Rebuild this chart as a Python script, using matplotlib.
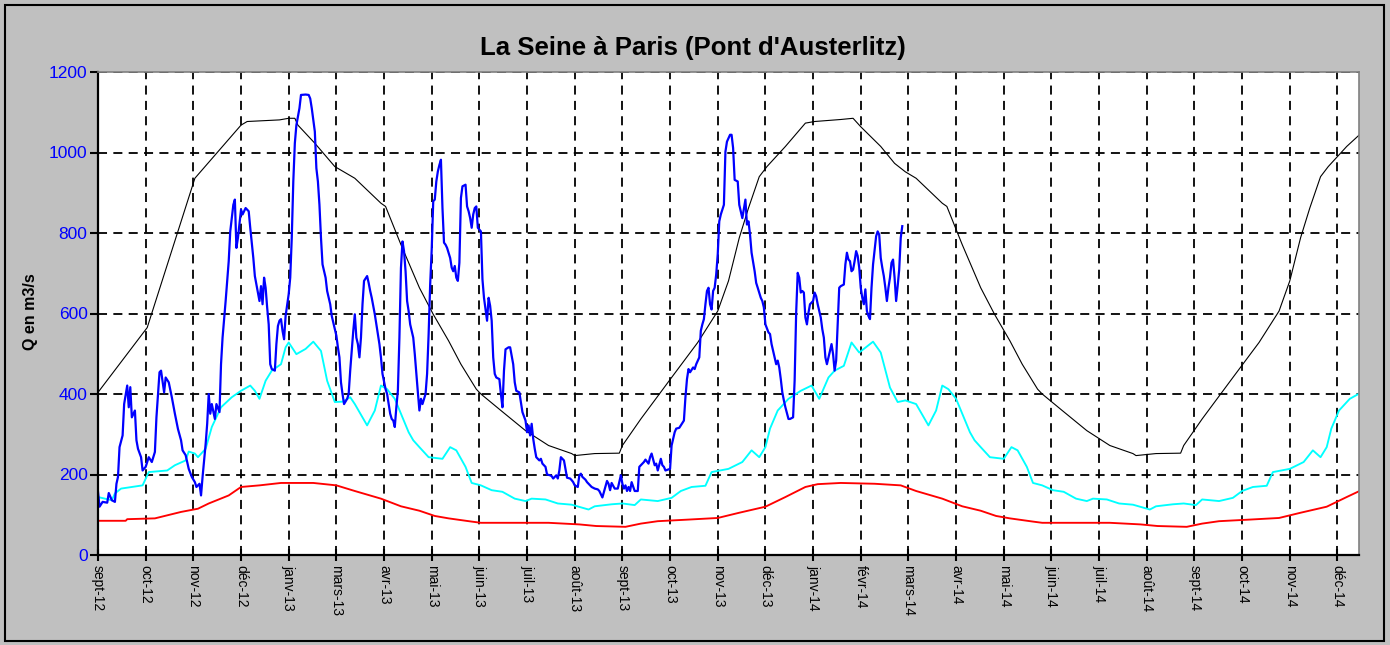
import matplotlib
matplotlib.use("Agg")
import matplotlib.pyplot as plt
from matplotlib.patches import Rectangle

plt.rcParams['font.family'] = ['Liberation Sans', 'DejaVu Sans']

# axe des x : jours depuis le 28/09/2012, une graduation tous les 31 jours
tick_labels = ['sept-12', 'oct-12', 'nov-12', 'déc-12', 'janv-13', 'mars-13', 'avr-13',
               'mai-13', 'juin-13', 'juil-13', 'août-13', 'sept-13', 'oct-13', 'nov-13',
               'déc-13', 'janv-14', 'févr-14', 'mars-14', 'avr-14', 'mai-14', 'juin-14',
               'juil-14', 'août-14', 'sept-14', 'oct-14', 'nov-14', 'déc-14']
tick_step = 31

# debit journalier observe (m3/s)
q_jours = [0, 1, 3, 6, 7, 9, 11, 12, 13, 14, 16, 17, 19, 20, 21, 22, 24, 25, 26, 28,
           29, 31, 33, 35, 37, 38, 40, 41, 43, 44, 46, 48, 50, 52, 54, 55, 57, 59, 61, 63,
           64, 66, 67, 68, 70, 71, 72, 73, 74, 76, 77, 79, 80, 81, 83, 85, 86, 88, 89, 90,
           91, 93, 94, 96, 98, 99, 101, 102, 104, 105, 106, 107, 108, 109, 110, 111, 112, 113, 115, 116,
           117, 118, 119, 120, 121, 122, 124, 125, 126, 127, 128, 129, 131, 132, 135, 137, 138, 139, 141, 142,
           143, 144, 145, 146, 148, 149, 151, 152, 154, 155, 156, 157, 158, 159, 160, 162, 163, 164, 165, 166,
           167, 168, 169, 170, 171, 172, 173, 175, 176, 177, 178, 180, 181, 183, 184, 185, 187, 188, 189, 190,
           191, 192, 193, 194, 195, 196, 197, 198, 199, 200, 201, 202, 203, 205, 206, 207, 208, 209, 210, 211,
           213, 214, 215, 216, 217, 218, 219, 220, 221, 222, 223, 224, 225, 226, 227, 229, 230, 231, 232, 233,
           234, 235, 236, 237, 239, 240, 241, 242, 243, 244, 245, 246, 247, 249, 250, 251, 252, 253, 254, 255,
           256, 257, 258, 259, 261, 262, 263, 264, 265, 267, 268, 270, 271, 272, 274, 275, 276, 278, 279, 280,
           281, 282, 283, 284, 285, 287, 288, 289, 291, 292, 294, 295, 296, 298, 299, 300, 301, 303, 304, 305,
           307, 308, 309, 310, 312, 313, 314, 315, 317, 318, 320, 321, 323, 325, 326, 328, 329, 331, 332, 333,
           334, 336, 337, 338, 340, 341, 342, 343, 344, 345, 346, 347, 349, 351, 352, 353, 355, 356, 358, 359,
           360, 362, 363, 364, 366, 367, 368, 369, 372, 373, 375, 376, 378, 379, 381, 382, 383, 384, 385, 387,
           388, 389, 391, 392, 393, 394, 395, 396, 397, 398, 399, 400, 401, 402, 403, 404, 405, 407, 408, 409,
           411, 412, 413, 414, 416, 417, 419, 421, 422, 423, 424, 425, 427, 428, 429, 431, 432, 433, 434, 436,
           437, 438, 440, 441, 442, 443, 444, 445, 446, 447, 449, 450, 452, 453, 454, 455, 456, 457, 458, 459,
           460, 461, 462, 463, 465, 466, 467, 468, 470, 471, 472, 473, 474, 476, 477, 478, 479, 480, 481, 482,
           483, 485, 486, 487, 488, 489, 490, 491, 492, 493, 494, 495, 496, 497, 498, 499, 500, 501, 502, 503,
           504, 506, 507, 508, 509, 510, 511, 512, 513, 514, 515, 516, 517, 518, 519, 520, 521, 522, 523]
q_obs = [157, 120, 132, 130, 154, 136, 132, 177, 194, 268, 297, 375, 421, 367, 417, 342, 359, 285, 264, 243,
         210, 219, 243, 231, 256, 342, 454, 458, 404, 441, 429, 392, 351, 313, 285, 260, 248, 214, 194, 181,
         169, 177, 148, 194, 276, 326, 400, 351, 375, 338, 375, 355, 474, 540, 631, 730, 804, 870, 883, 763,
         788, 858, 846, 862, 854, 813, 738, 693, 652, 631, 668, 623, 689, 664, 615, 573, 474, 462, 458, 524,
         569, 582, 586, 557, 536, 594, 648, 689, 788, 928, 1023, 1068, 1110, 1143, 1144, 1143, 1134, 1110, 1052, 961,
         928, 870, 788, 722, 689, 656, 623, 594, 561, 545, 516, 491, 429, 400, 375, 388, 400, 458, 507, 557,
         598, 540, 524, 491, 540, 623, 681, 693, 676, 656, 639, 598, 573, 524, 491, 450, 412, 400, 375, 351,
         338, 334, 318, 367, 408, 540, 713, 779, 755, 705, 631, 606, 573, 540, 499, 450, 404, 359, 388, 375,
         400, 450, 549, 672, 759, 879, 883, 928, 953, 969, 982, 862, 776, 771, 763, 738, 714, 705, 718, 689,
         681, 726, 887, 916, 920, 866, 854, 837, 813, 846, 862, 866, 813, 804, 685, 639, 610, 582, 639, 619,
         582, 491, 450, 441, 437, 400, 367, 458, 511, 516, 516, 474, 429, 408, 404, 380, 355, 334, 305, 322,
         297, 326, 289, 264, 243, 235, 239, 227, 219, 200, 198, 196, 190, 198, 190, 210, 243, 235, 214, 192,
         190, 186, 181, 173, 169, 198, 202, 194, 187, 181, 173, 169, 165, 163, 159, 143, 157, 184, 177, 161,
         179, 165, 165, 165, 198, 177, 165, 173, 159, 169, 159, 181, 159, 159, 219, 223, 231, 237, 227, 243,
         252, 223, 227, 210, 239, 223, 219, 210, 214, 272, 305, 314, 316, 322, 334, 392, 437, 462, 454, 466,
         462, 474, 491, 557, 573, 586, 623, 656, 664, 623, 610, 656, 664, 697, 747, 829, 846, 870, 1002, 1027,
         1044, 1044, 1011, 932, 928, 870, 837, 883, 821, 829, 796, 751, 705, 676, 664, 639, 631, 615, 573, 553,
         549, 524, 491, 474, 483, 466, 437, 404, 384, 367, 338, 338, 342, 433, 602, 701, 689, 652, 656, 652,
         590, 573, 602, 623, 631, 652, 643, 623, 590, 561, 540, 491, 474, 507, 524, 499, 458, 483, 573, 664,
         668, 672, 722, 751, 734, 730, 705, 709, 730, 755, 743, 714, 664, 639, 623, 660, 606, 594, 586, 664,
         722, 792, 804, 796, 738, 714, 693, 664, 631, 664, 689, 726, 734, 689, 631, 668, 709, 788, 817]

# debit maximal (courbe noire)
max_jours = [0, 32, 63, 93, 97, 118, 124, 128, 130, 141, 154, 167, 184, 187, 197, 209, 218, 228, 236, 246,
             249, 262, 278, 293, 308, 310, 323, 339, 341, 353, 373, 390, 403, 410, 417, 423, 430, 435, 447, 460,
             466, 483, 491, 496, 509, 518, 525, 532, 549, 552, 562, 574, 583, 593, 601, 611, 614, 627, 643, 658,
             673, 675, 688, 704, 706, 718, 738, 755, 768, 775, 782, 788, 795, 800, 812, 822]
q_max = [404, 565, 936, 1068, 1077, 1081, 1085, 1085, 1068, 1023, 965, 936, 874, 866, 771, 664, 598, 532, 474, 412,
         400, 359, 309, 272, 252, 247, 252, 253, 272, 338, 441, 528, 606, 681, 788, 862, 940, 965, 1015, 1073,
         1077, 1082, 1085, 1064, 1015, 973, 952, 936, 874, 866, 771, 664, 598, 532, 474, 412, 400, 359, 309, 272,
         252, 247, 252, 253, 272, 338, 441, 528, 606, 681, 788, 862, 940, 965, 1015, 1050]

# debit moyen (courbe cyan)
moy_jours = [0, 9, 11, 15, 22, 29, 33, 45, 50, 57, 59, 63, 65, 70, 74, 80, 87, 93, 99, 102,
             105, 109, 113, 119, 122, 124, 129, 135, 140, 145, 149, 154, 159, 164, 167, 175, 180, 184, 188, 193,
             197, 202, 205, 209, 215, 224, 229, 233, 239, 243, 249, 256, 263, 271, 278, 282, 291, 299, 308, 319,
             323, 334, 341, 349, 353, 364, 373, 379, 386, 395, 399, 410, 417, 419, 425, 430, 434, 437, 442, 449,
             457, 464, 469, 475, 479, 485, 490, 495, 504, 509, 515, 520, 525, 532, 540, 545, 549, 553, 558, 562,
             567, 570, 574, 580, 589, 594, 598, 604, 608, 614, 621, 628, 636, 643, 647, 656, 664, 673, 684, 688,
             699, 706, 714, 718, 729, 738, 744, 751, 760, 764, 775, 782, 784, 790, 795, 799, 802, 807, 814, 822]
q_moy = [144, 136, 153, 165, 169, 173, 206, 210, 223, 235, 257, 252, 243, 264, 318, 367, 392, 408, 421, 408,
         388, 433, 458, 474, 516, 528, 499, 512, 530, 507, 433, 380, 381, 392, 375, 322, 359, 421, 412, 388,
         351, 305, 285, 268, 243, 239, 268, 260, 219, 179, 173, 161, 157, 140, 134, 140, 138, 128, 125, 113,
         121, 126, 128, 124, 138, 134, 142, 159, 169, 172, 206, 214, 227, 231, 260, 243, 268, 314, 359, 388,
         408, 421, 388, 441, 458, 470, 528, 503, 530, 503, 416, 380, 384, 375, 322, 359, 421, 412, 388, 351,
         305, 285, 268, 243, 239, 268, 260, 219, 179, 173, 161, 157, 140, 134, 140, 138, 128, 125, 113, 121,
         126, 128, 124, 138, 134, 142, 159, 169, 172, 206, 214, 227, 231, 260, 243, 268, 314, 359, 388, 405]

# debit minimal (courbe rouge)
min_jours = [0, 18, 19, 37, 54, 65, 72, 85, 93, 105, 119, 140, 155, 167, 184, 197, 209, 219, 228, 243,
             249, 293, 313, 324, 343, 353, 364, 384, 403, 417, 434, 447, 460, 468, 483, 505, 522, 532, 549, 562,
             574, 584, 593, 608, 614, 658, 678, 689, 708, 718, 729, 749, 768, 782, 799, 812, 822]
q_min = [85, 85, 89, 91, 107, 115, 128, 148, 169, 173, 179, 179, 173, 159, 140, 121, 110, 97, 91, 83,
         80, 80, 76, 72, 70, 78, 84, 88, 92, 105, 120, 144, 169, 176, 179, 177, 173, 159, 140, 121,
         110, 97, 91, 83, 80, 80, 76, 72, 70, 78, 84, 88, 92, 105, 120, 144, 162]

W, H = 1390, 645
fig = plt.figure(figsize=(W / 100, H / 100), dpi=100, facecolor='#C0C0C0')
ax = fig.add_axes([98 / W, 1 - 555 / H, (1359 - 98) / W, (555 - 72) / H])

grid_style = dict(color='black', linestyle=(0, (5, 3.5)), linewidth=1.3)
ax.grid(True, **grid_style)
ax.set_axisbelow(True)

ax.plot(max_jours, q_max, color='black', lw=0.8)
ax.plot(min_jours, q_min, color='#FF0000', lw=1.35)
ax.plot(moy_jours, q_moy, color='#00FFFF', lw=1.35)
ax.plot(q_jours, q_obs, color='#0000FF', lw=1.6)

ax.set_xlim(0, 820)
ax.set_ylim(0, 1200)
ax.set_xticks([i * tick_step for i in range(len(tick_labels))])
ax.set_xticklabels(tick_labels, rotation=270, ha='center', va='top', fontsize=10)
ax.set_yticks(range(0, 1201, 200))
ax.tick_params(axis='y', colors='black', labelcolor='#0000FF', labelsize=12.5,
               direction='out', length=6, width=1.5, pad=1.5)
ax.tick_params(axis='x', direction='inout', length=9, width=1.5, pad=3)

for side in ['left', 'bottom']:
    ax.spines[side].set_color('black')
    ax.spines[side].set_linewidth(1.6)
for side in ['top', 'right']:
    ax.spines[side].set_color('#808080')
    ax.spines[side].set_linewidth(1.2)

fig.text(693 / W, 1 - 48 / H, "La Seine à Paris (Pont d'Austerlitz)",
         ha='center', va='center', fontsize=18.5, fontweight='bold')
fig.text(30 / W, 1 - 312 / H, 'Q en m3/s', rotation=90, ha='center', va='center',
         fontsize=11.5, fontweight='bold')

fig.patches.append(Rectangle((5 / W, 1 - 641 / H), 1379 / W, 636 / H, transform=fig.transFigure,
                             fill=False, edgecolor='black', lw=1.5))

fig.savefig('out.png', dpi=100, facecolor=fig.get_facecolor())
